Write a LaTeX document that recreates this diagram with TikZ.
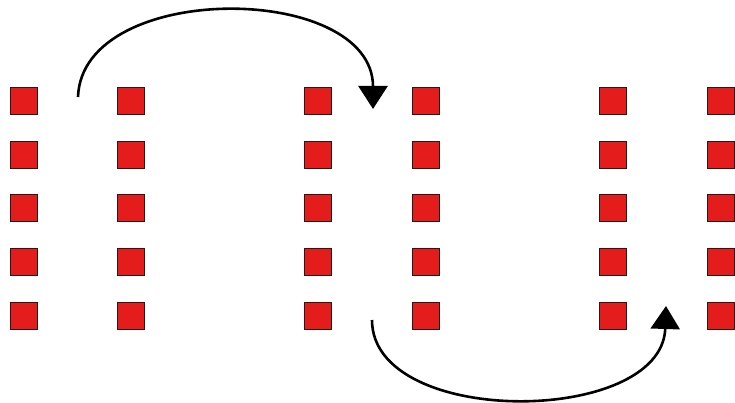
\documentclass[tikz,border=0pt]{standalone}
\usepackage{tikz}
\usetikzlibrary{
	arrows.meta,
	positioning
}
\usepackage{xcolor}
\definecolor{seatred}{RGB}{228,28,28}
\definecolor{seatedge}{RGB}{40,25,25}

\begin{document}
\begin{tikzpicture}[x=1pt,y=-1pt,>={Triangle[length=23pt,width=29pt]},
		seat/.style={draw=seatedge,fill=seatred,line width=1.8pt,minimum size=27pt,inner sep=0pt},
		jump/.style={->,line width=2.6pt,black}]
			
			\useasboundingbox (0,0) rectangle (735,403);
			
			% columns of seats
			\foreach \c/\x in {1/24,2/131,3/318,4/426,5/613,6/721}{
				\foreach \r/\y in {1/101,2/155,3/208,4/262,5/316}{
					\node[seat] (s\c\r) at (\x,\y) {};
				}
			}
			
			\coordinate (upA) at (78,97);
			\coordinate (upB) at (373,109);
			\coordinate (downA) at (372,320);
			\coordinate (downB) at (666,306);
			
			\draw[jump] (upA) .. controls (82,-20) and (373,-18) .. (upB);
			\draw[jump] (downA) .. controls (372,428) and (662,426) .. (downB);
			
		\end{tikzpicture}
\end{document}
